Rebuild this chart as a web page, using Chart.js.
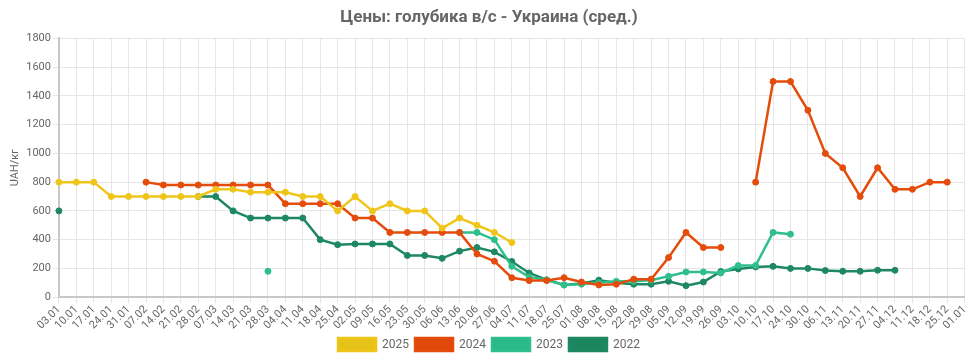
<!DOCTYPE html>
<html>
<head>
<meta charset="utf-8">
<script src="https://cdn.jsdelivr.net/npm/chart.js@4.4.1/dist/chart.umd.min.js"></script>
<style>
    html, body { margin: 0; padding: 0; background: #fff; }
    #wrap { width: 974px; height: 361px; }
</style>
</head>
<body>
<div id="wrap"><canvas id="lineChart"></canvas></div>
<script>
const labels = ["03.01","10.01","17.01","24.01","31.01","07.02","14.02","21.02","28.02","07.03","14.03","21.03","28.03",
    "04.04","11.04","18.04","25.04","02.05","09.05","16.05","23.05","30.05","06.06","13.06","20.06","27.06",
    "04.07","11.07","18.07","25.07","01.08","08.08","15.08","22.08","29.08","05.09","12.09","19.09","26.09",
    "03.10","10.10","17.10","24.10","30.10","06.11","13.11","20.11","27.11","04.12","11.12","18.12","25.12","01.01"];

const n = null;
// цены по годам, грн/кг
const y2025 = [800,800,800,700,700,700,700,700,700,750,750,730,730,730,700,700,600,700,600,650,600,600,480,550,500,450,
    380,n,n,n,n,n,n,n,n,n,n,n,n,n,n,n,n,n,n,n,n,n,n,n,n,n,n];
const y2024 = [n,n,n,n,n,800,780,780,780,780,780,780,780,650,650,650,650,550,550,450,450,450,450,450,300,250,
    135,115,115,135,105,85,90,125,125,275,450,345,345,n,800,1500,1500,1300,1000,900,700,900,750,750,800,800,n];
const y2023 = [n,n,n,n,n,n,n,n,n,n,n,n,180,n,n,n,n,n,n,n,n,n,n,450,450,400,
    215,140,120,85,90,100,110,110,118,145,175,175,168,220,220,450,438,n,n,n,n,n,n,n,n,n,n];
const y2022 = [600,n,n,n,n,n,n,n,700,700,600,550,550,550,550,400,365,370,370,370,290,290,270,320,345,315,
    248,168,120,85,95,118,100,90,90,110,80,105,178,196,210,214,200,200,185,180,180,187,187,n,n,n,n];

const yTicks = [0, 200, 400, 600, 800, 1000, 1200, 1400, 1600, 1800];

function makeSet(label, data, line, box) {
    return {
        label: label,
        data: data,
        borderColor: line,
        backgroundColor: box,
        pointBackgroundColor: line,
        pointBorderColor: line,
        borderWidth: 2.5,
        pointRadius: 3,
        pointBorderWidth: 1,
        pointHoverRadius: 4,
        tension: 0,
        spanGaps: false
    };
}

const ctx = document.getElementById("lineChart").getContext("2d");

new Chart(ctx, {
    type: "line",
    data: {
        labels: labels,
        datasets: [
            makeSet("2025", y2025, "#efc51a", "#e6c319"),
            makeSet("2024", y2024, "#e44c0c", "#e0480c"),
            makeSet("2023", y2023, "#2fbf8d", "#2ab98a"),
            makeSet("2022", y2022, "#1d8862", "#1c8660")
        ]
    },
    options: {
        responsive: true,
        maintainAspectRatio: false,
        animation: false,
        layout: { padding: { left: 7, right: 3, top: 4, bottom: 0 } },
        plugins: {
            title: {
                display: true,
                text: "Цены: голубика в/с - Украина (сред.)",
                color: "#666",
                font: { family: "Roboto", size: 17, weight: "bold" },
                padding: { top: 4, bottom: 10 }
            },
            legend: {
                position: "bottom",
                labels: {
                    boxWidth: 38,
                    boxHeight: 13,
                    color: "#666",
                    font: { family: "Roboto", size: 12 },
                    padding: 6
                }
            },
            tooltip: { enabled: false }
        },
        scales: {
            x: {
                grid: { color: "#e6e6e6", drawTicks: true, tickLength: 6 },
                border: { color: "#c8c8c8", width: 2 },
                ticks: {
                    color: "#666",
                    font: { family: "Roboto", size: 11 },
                    maxRotation: 45,
                    minRotation: 45,
                    autoSkip: false,
                    padding: 0
                }
            },
            y: {
                min: 0,
                max: 1800,
                afterBuildTicks: axis => {
                    axis.ticks = yTicks.map(v => ({ value: v }));
                },
                grid: { color: "#e6e6e6", tickLength: 6 },
                border: { color: "#c8c8c8", width: 2 },
                ticks: {
                    color: "#666",
                    font: { family: "Roboto", size: 11 },
                    padding: 2,
                    callback: v => String(v)
                },
                title: {
                    display: true,
                    text: "UAH/кг",
                    color: "#666",
                    font: { family: "Roboto", size: 11 },
                    padding: 2
                }
            }
        }
    }
});
</script>
</body>
</html>
